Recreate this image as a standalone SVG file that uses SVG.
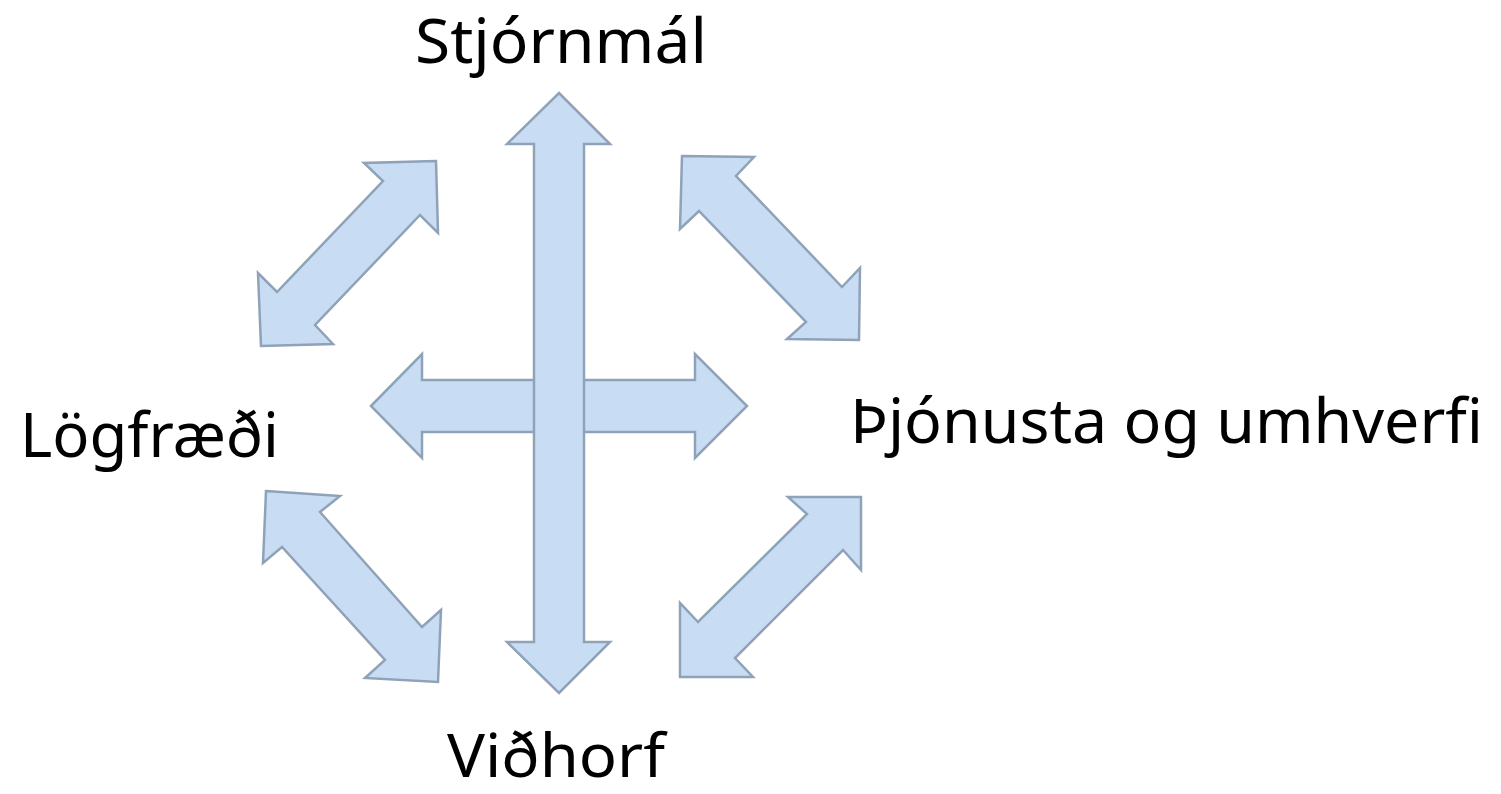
<svg xmlns="http://www.w3.org/2000/svg" width="1501" height="794" viewBox="0 0 1501 794">
<style>
.arr{fill:#c8ddf4;stroke:#8fa2b8;stroke-width:2.5;stroke-linejoin:miter}
.lbl{font-family:"Noto Sans","Open Sans","DejaVu Sans",sans-serif;font-size:62px;fill:#000}
</style>
<rect width="1501" height="794" fill="#fff"/>
<g id="connectors">
<polygon class="arr" points="371,406 422,354 422,380 695,380 695,354 747,406 695,458 695,432 422,432 422,458"/>
<polygon class="arr" points="559,93 610,144 584,144 584,642 610,642 559,693 507,642 534,642 534,144 507,144"/>
<polygon class="arr" points="436,161 364,163 383,181 277,292 258,273 261,346 333,344 315,325 420,215 438,233"/>
<polygon class="arr" points="682,156 754,157 736,176 842,287 860,268 859,340 787,339 806,322 699,211 680,229"/>
<polygon class="arr" points="266,491 340,496 320,512 422,627 441,610 438,682 365,678 385,660 282,547 263,563"/>
<polygon class="arr" points="861,497 788,497 807,514 698,622 680,603 680,677 753,677 735,658 843,550 861,570"/>
</g>
<g id="node-stjornmal"><text class="lbl" x="415" y="63" textLength="292" lengthAdjust="spacingAndGlyphs">Stjórnmál</text></g>
<g id="node-logfraedi"><text class="lbl" x="20" y="457" textLength="259" lengthAdjust="spacingAndGlyphs">Lögfræði</text></g>
<g id="node-thjonusta"><text class="lbl" x="850" y="443" textLength="633" lengthAdjust="spacingAndGlyphs">Þjónusta og umhverfi</text></g>
<g id="node-vidhorf"><text class="lbl" x="447" y="777" style="font-size:60px" textLength="218" lengthAdjust="spacingAndGlyphs">Viðhorf</text></g>
</svg>
